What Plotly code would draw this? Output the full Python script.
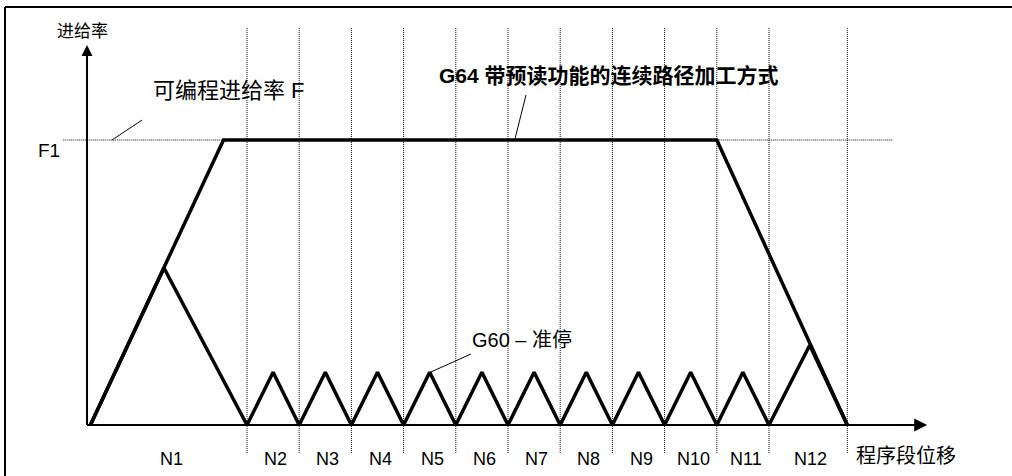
import plotly.graph_objects as go

# block boundaries along the path (units of block length)
block_edges = [0, 3, 4, 5, 6, 7, 8, 9, 10, 11, 12, 13, 14.5]
block_labels = ["N1", "N2", "N3", "N4", "N5", "N6", "N7", "N8", "N9", "N10", "N11", "N12"]

# programmed feed rate level
f1 = 1.0

# G64 continuous path: accelerate, hold F1, decelerate
g64_x = [0, 2.55, 12, 14.5]
g64_y = [0, f1, f1, 0]

# G60 exact stop: one peak per block
g60_peak_x = [1.41, 3.5, 4.5, 5.5, 6.5, 7.5, 8.5, 9.5, 10.5, 11.5, 12.5, 13.78]
g60_peak_y = [0.551, 0.185, 0.185, 0.185, 0.185, 0.185, 0.185, 0.185, 0.185, 0.185, 0.185, 0.28]

FONT = "Liberation Sans, Arial, Noto Sans CJK SC"

g60_x, g60_y = [], []
for i, px in enumerate(g60_peak_x):
    g60_x += [block_edges[i], px]
    g60_y += [0, g60_peak_y[i]]
g60_x.append(block_edges[-1])
g60_y.append(0)

fig = go.Figure()

# dotted block separators
vx, vy = [], []
for e in block_edges[1:]:
    vx += [e, e, None]
    vy += [-0.098, 1.396, None]
fig.add_trace(go.Scatter(x=vx, y=vy, mode="lines",
                         line=dict(color="black", width=1, dash="1px,1px")))

# dotted F1 level
fig.add_trace(go.Scatter(x=[-0.52, 15.37], y=[f1, f1], mode="lines",
                         line=dict(color="black", width=1, dash="1px,1px")))

# axes with arrows
ax_x = -0.065
x_tip = 16.03
y_tip = 1.333
fig.add_trace(go.Scatter(x=[ax_x, ax_x], y=[0, y_tip - 0.02], mode="lines",
                         line=dict(color="black", width=2)))
fig.add_trace(go.Scatter(x=[ax_x, x_tip - 0.1], y=[0, 0], mode="lines",
                         line=dict(color="black", width=2)))
fig.add_trace(go.Scatter(x=[ax_x], y=[y_tip], mode="markers",
                         marker=dict(symbol="arrow-up", size=11, color="black")))
fig.add_trace(go.Scatter(x=[x_tip], y=[0], mode="markers",
                         marker=dict(symbol="arrow-right", size=13, color="black")))

# G64 and G60 curves
fig.add_trace(go.Scatter(x=g64_x, y=g64_y, mode="lines",
                         line=dict(color="black", width=3.5)))
fig.add_trace(go.Scatter(x=g60_x, y=g60_y, mode="lines",
                         line=dict(color="black", width=3.5)))

# leader lines
for x0, y0, x1, y1 in [(0.414, 1.0, 0.989, 1.07),
                       (8.345, 1.158, 8.134, 1.004),
                       (7.29, 0.249, 6.51, 0.185)]:
    fig.add_shape(type="line", x0=x0, y0=y0, x1=x1, y1=y1,
                  line=dict(color="black", width=1))

# frame: only the top and left edges fall inside the picture
fig.add_shape(type="line", xref="paper", yref="paper",
              x0=5 / 1012, x1=1.0, y0=1 - 7 / 476, y1=1 - 7 / 476,
              line=dict(color="black", width=2))
fig.add_shape(type="line", xref="paper", yref="paper",
              x0=5 / 1012, x1=5 / 1012, y0=0, y1=1 - 7 / 476,
              line=dict(color="black", width=2))

def label(x, y, text, size, anchor="left", bold=False):
    fig.add_annotation(x=x, y=y, text=f"<b>{text}</b>" if bold else text,
                       showarrow=False, xanchor=anchor, yanchor="middle",
                       font=dict(family=FONT, size=size, color="black"))

label(-0.16, 1.382, "进给率", 17, "center")
label(1.16, 1.175, "可编程进给率 F", 22)
label(6.64, 1.225, "G64 带预读功能的连续路径加工方式", 21, bold=True)
label(-1.04, 0.962, "F1", 19)
label(7.27, 0.298, "G60 – 准停", 20)
label(14.62, -0.109, "程序段位移", 20)

for i, name in enumerate(block_labels):
    cx = (block_edges[i] + block_edges[i + 1]) / 2 + 0.05
    label(cx, -0.119, name, 18, "center")

fig.update_layout(
    width=1012, height=476,
    margin=dict(l=0, r=0, t=0, b=0),
    paper_bgcolor="white", plot_bgcolor="white",
    showlegend=False, hovermode=False,
    xaxis=dict(range=[-90.4 / 52.2, (1012 - 90.4) / 52.2], visible=False, fixedrange=True),
    yaxis=dict(range=[-51 / 285, 425 / 285], visible=False, fixedrange=True),
)

fig.write_html("out.html", config={"displayModeBar": False},
               post_script="document.body.style.margin='0';document.body.style.overflow='hidden';")
